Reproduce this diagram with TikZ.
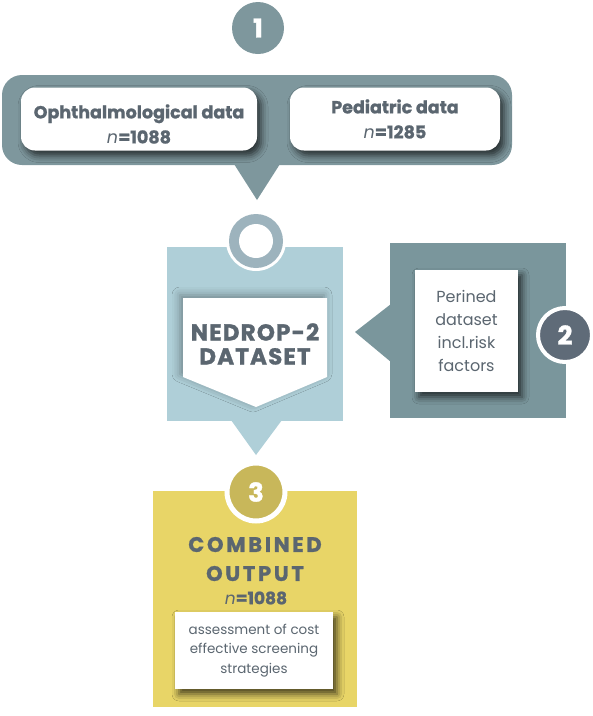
\documentclass[tikz,border=0pt]{standalone}
\usepackage{fontspec}
\setmainfont{Poppins}[BoldFeatures={FakeBold=1.2}]
\newfontfamily\spaced{Poppins}[LetterSpace=13, BoldFeatures={FakeBold=1.2}]
\newfontfamily\spacedb{Poppins}[LetterSpace=5, BoldFeatures={FakeBold=1.2}]
\usetikzlibrary{shadows.blur}
\definecolor{panel}{HTML}{7E979D}
\definecolor{txt}{HTML}{5B6670}
\definecolor{ringc}{HTML}{9DB3BD}
\definecolor{lblue}{HTML}{AFCFD8}
\definecolor{panelb}{HTML}{7A969C}
\definecolor{dark}{HTML}{5F6B78}
\definecolor{yel}{HTML}{E8D567}
\definecolor{olive}{HTML}{C8B75A}
\tikzset{
  shad/.style={blur shadow={shadow xshift=4pt, shadow yshift=-5pt, shadow blur radius=7pt, shadow opacity=70}},
  whitebox/.style={fill=white, shad, text=txt, align=center, inner sep=0pt},
  label/.style={text=txt, align=center, inner sep=0pt},
  numc/.style={circle, text=white, font=\bfseries\fontsize{26}{26}\selectfont, inner sep=0pt},
}
\begin{document}
\begin{tikzpicture}[x=1pt,y=-1pt]
\useasboundingbox (0,0) rectangle (593,716);
% step 1
\node[numc, fill=panel, minimum size=52pt] (c1) at (258,28) {1};
\fill[panel, rounded corners=20pt] (2,75) rectangle (512,165);
\fill[panel] (234,164) -- (280,164) -- (257,200) -- cycle;
\node[whitebox, rounded corners=14pt, minimum width=236pt, minimum height=63pt] (oph) at (139,119) {};
\node[label, font=\fontsize{17.5}{25}\selectfont] (opht) at (139,124)
  {\textbf{Ophthalmological data}\\\textit{n}\textbf{=1088}};
\node[whitebox, rounded corners=14pt, minimum width=210pt, minimum height=63pt] (ped) at (395,119) {};
\node[label, font=\fontsize{17.5}{25}\selectfont] (pedt) at (395,119)
  {\textbf{Pediatric data}\\\textit{n}\textbf{=1285}};
% step 2 dataset
\fill[lblue] (167,247) rectangle (343,421);
\fill[lblue] (231,420) -- (282,420) -- (256,455) -- cycle;
\fill[white] (256,241) circle (30);
\fill[ringc] (256,241) circle (27);
\fill[white] (256,241) circle (17);
\fill[white, blur shadow={shadow xshift=-3pt, shadow yshift=3pt, shadow blur radius=8pt, shadow opacity=35}]
  (183,298) -- (327,298) -- (327,377) -- (256,407) -- (183,377) -- cycle;
\node[label, font=\spacedb\bfseries\fontsize{23}{24}\selectfont] (ned) at (255,344) {NEDROP-2\\DATASET};
% refined
\fill[panelb] (390,243) rectangle (566,418);
\fill[panelb] (391,304) -- (391,362) -- (355,332) -- cycle;
\node[whitebox, minimum width=103pt, minimum height=122pt,
  font=\fontsize{16}{23}\selectfont] (ref) at (466.5,331) {Perined\\dataset\\incl.risk\\factors};
\node[numc, fill=dark, minimum size=54pt, draw=white, line width=4pt] (c2) at (565,335) {2};
% step 3
\fill[yel] (153,491) rectangle (357,707);
\node[numc, fill=olive, minimum size=58pt, draw=white, line width=5pt] (c3) at (256,492) {3};
\node[label, font=\spaced\bfseries\fontsize{21}{29}\selectfont] (comb) at (255,559) {COMBINED\\OUTPUT};
\node[label, font=\fontsize{17}{20}\selectfont] (n3) at (256,598) {\textit{n}\textbf{=1088}};
\node[whitebox, minimum width=158pt, minimum height=77pt,
  font=\fontsize{13.5}{19.5}\selectfont] (ass) at (254,650.5) {assessment of cost\\effective screening\\strategies};
\end{tikzpicture}
\end{document}
